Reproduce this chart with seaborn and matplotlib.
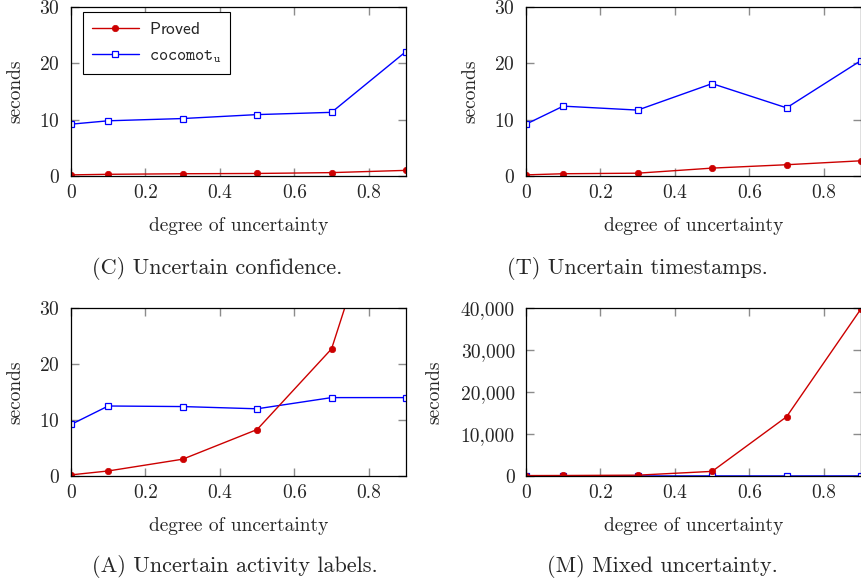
import matplotlib

matplotlib.use("Agg")
import matplotlib.pyplot as plt  # noqa: E402
import pandas as pd  # noqa: E402
import seaborn as sns  # noqa: E402
from matplotlib.ticker import FuncFormatter  # noqa: E402

# grado de incertidumbre (eje x compartido)
uncertainty = [0.0, 0.1, 0.3, 0.5, 0.7, 0.9]

# (C) confianza incierta
conf_proved = [0.2, 0.3, 0.4, 0.45, 0.6, 1.0]
conf_cocomot = [9.2, 9.8, 10.2, 10.9, 11.3, 22.1]
# (T) timestamps inciertos
time_proved = [0.2, 0.4, 0.5, 1.4, 2.0, 2.7]
time_cocomot = [9.2, 12.4, 11.7, 16.4, 12.1, 20.5]
# (A) etiquetas de actividad inciertas
act_proved = [0.2, 0.9, 3.0, 8.3, 22.7, 64.0]
act_cocomot = [9.2, 12.5, 12.4, 12.0, 14.0, 14.0]
# (M) incertidumbre mixta
mix_proved = [100, 120, 200, 1100, 14100, 39800]
mix_cocomot = [9, 12, 12, 16, 12, 20]

panels = [
    ("(C) Uncertain confidence.", conf_proved, conf_cocomot, [0, 10, 20, 30], 30),
    ("(T) Uncertain timestamps.", time_proved, time_cocomot, [0, 10, 20, 30], 30),
    ("(A) Uncertain activity labels.", act_proved, act_cocomot, [0, 10, 20, 30], 30),
    ("(M) Mixed uncertainty.", mix_proved, mix_cocomot, [0, 10000, 20000, 30000, 40000], 40000),
]

RED = "#cc0000"
BLUE = "#0000ff"
W, H = 862, 587

sns.set_theme(style="white")
plt.rcParams["font.family"] = ["cmr10", "DejaVu Serif"]
plt.rcParams["mathtext.fontset"] = "cm"
plt.rcParams["axes.formatter.use_mathtext"] = True

fig = plt.figure(figsize=(W / 100, H / 100), dpi=100)

# posiciones en píxeles: (x0, y_top, y_bottom)
boxes = [(71, 7, 176), (526, 7, 176), (71, 308, 476), (526, 308, 476)]
caption_pos = [(92, 268), (507, 268), (92, 567), (547, 567)]
ylabel_x = [-0.14, -0.14, -0.14, -0.248]


def fmt_thousands(v, _pos):
    return f"{int(v):,}"


for i, ((caption, proved, cocomot, yticks, ymax), (x0, yt, yb)) in enumerate(zip(panels, boxes)):
    ax = fig.add_axes([x0 / W, 1 - yb / H, 335 / W, (yb - yt) / H])
    df = pd.DataFrame({"x": uncertainty, "proved": proved, "cocomot": cocomot})
    sns.lineplot(
        data=df, x="x", y="cocomot", ax=ax, color=BLUE, linewidth=1.0,
        marker="s", markersize=4.3, markerfacecolor="white", markeredgecolor=BLUE,
        markeredgewidth=0.9, label=r"$\mathtt{cocomot}_{\mathtt{u}}$",
    )
    sns.lineplot(
        data=df, x="x", y="proved", ax=ax, color=RED, linewidth=1.0,
        marker="o", markersize=4.6, markeredgecolor=RED, markeredgewidth=0.5,
        label=r"$\mathsf{Proved}$",
    )
    ax.set_xlim(0, 0.9)
    ax.set_ylim(0, ymax)
    ax.set_xticks([0, 0.2, 0.4, 0.6, 0.8])
    ax.set_xticklabels(["0", "0.2", "0.4", "0.6", "0.8"])
    ax.set_yticks(yticks)
    if ymax > 100:
        ax.yaxis.set_major_formatter(FuncFormatter(fmt_thousands))
    ax.tick_params(axis="both", which="major", direction="in", length=6, width=1.0,
                   color="#8c8c8c", bottom=True, left=True, top=True, right=True,
                   labelsize=14)
    ax.tick_params(axis="x", pad=6)
    ax.tick_params(axis="y", pad=8)
    for sp in ax.spines.values():
        sp.set_color("black")
        sp.set_linewidth(0.9)
        sp.set_zorder(3)
    ax.set_xlabel("degree of uncertainty", fontsize=14)
    ax.set_ylabel("seconds", fontsize=14)
    ax.xaxis.set_label_coords(0.5, -0.245)
    ax.yaxis.set_label_coords(ylabel_x[i], 0.5)
    if i == 0:
        handles, labels = ax.get_legend_handles_labels()
        leg = ax.legend(handles[::-1], labels[::-1], loc="upper left", fontsize=12.5,
                        frameon=True, fancybox=False, edgecolor="black", framealpha=1,
                        borderpad=0.5, handlelength=2.7, labelspacing=0.65,
                        handletextpad=0.6, borderaxespad=0,
                        bbox_to_anchor=(0.036, 0.97))
        leg.get_frame().set_linewidth(0.8)
    else:
        ax.get_legend().remove()
    cx, cy = caption_pos[i]
    fig.text(cx / W, 1 - cy / H, caption, ha="left", va="center", fontsize=16)

fig.savefig("out.png", dpi=100, facecolor="white")
